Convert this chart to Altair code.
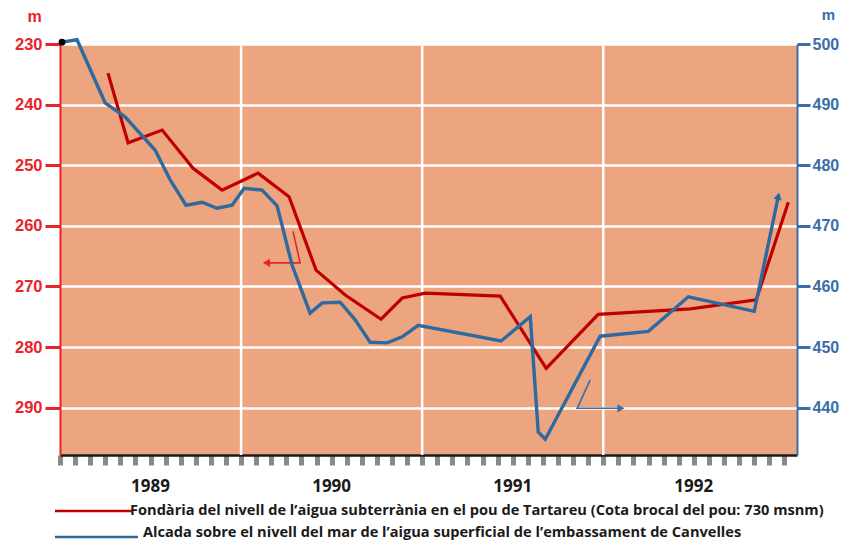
import altair as alt
import pandas as pd

# ---------------- data ----------------
red_t = [1989.265, 1989.376, 1989.564, 1989.735, 1989.895, 1990.094, 1990.265, 1990.414,
         1990.575, 1990.773, 1990.890, 1991.017, 1991.431, 1991.685, 1991.972, 1992.481,
         1992.845, 1993.022]
red_v = [234.8, 246.3, 244.2, 250.5, 254.1, 251.3, 255.2, 267.3,
         271.4, 275.4, 271.9, 271.1, 271.6, 283.5, 274.6, 273.7,
         272.2, 256.1]

blue_t = [1989.011, 1989.094, 1989.249, 1989.359, 1989.525, 1989.608, 1989.696, 1989.785,
          1989.867, 1989.950, 1990.017, 1990.116, 1990.199, 1990.282, 1990.381, 1990.448,
          1990.547, 1990.630, 1990.713, 1990.807, 1990.890, 1990.978, 1991.436, 1991.597,
          1991.641, 1991.680, 1991.983, 1992.249, 1992.470, 1992.834, 1992.967]
blue_v = [500.3, 500.7, 490.3, 488.0, 482.5, 477.6, 473.4, 473.9,
          472.9, 473.4, 476.2, 475.9, 473.3, 463.5, 455.6, 457.3,
          457.4, 454.5, 450.8, 450.7, 451.7, 453.6, 451.0, 455.0,
          436.0, 434.8, 451.8, 452.6, 458.3, 455.9, 474.9]

years = [1989, 1990, 1991, 1992]
year_bounds = [1990, 1991, 1992]
left_ticks = [230, 240, 250, 260, 270, 280, 290]
right_ticks = [440, 450, 460, 470, 480, 490, 500]
month_ticks = [1989 + k / 12 for k in range(0, 49)]

# annotation arrows (data coordinates)
red_arrow_t = [1990.287, 1990.326, 1990.160]
red_arrow_v = [260.9, 266.1, 266.1]
red_head = [(1990.140, 266.1)]
blue_arrow_t = [1991.928, 1991.856, 1992.083]
blue_arrow_v = [444.6, 439.9, 439.9]
blue_head = [(1992.098, 439.9)]

legend_labels = [
    "Fondària del nivell de l’aigua subterrània en el pou de Tartareu (Cota brocal del pou: 730 msnm)",
    "Alcada sobre el nivell del mar de l’aigua superficial de l’embassament de Canvelles",
]

# ---------------- styles ----------------
BG = "#EDA57F"
RED_AX = "#E8232A"
RED_LINE = "#C00000"
BLUE_AX = "#3A6EA8"
BLUE_LINE = "#2E69A0"
AXFONT = "Liberation Sans"
TXTFONT = "Open Sans"

red_df = pd.DataFrame({"t": red_t, "v": red_v})
blue_df = pd.DataFrame({"t": blue_t, "v": blue_v})
red_arrow_df = pd.DataFrame({"t": red_arrow_t, "v": red_arrow_v, "o": range(len(red_arrow_t))})
blue_arrow_df = pd.DataFrame({"t": blue_arrow_t, "v": blue_arrow_v, "o": range(len(blue_arrow_t))})
red_head_df = pd.DataFrame(red_head, columns=["t", "v"])
blue_head_df = pd.DataFrame(blue_head, columns=["t", "v"])
blue_end_df = blue_df.tail(1)
blue_start_df = blue_df.head(1)
year_df = pd.DataFrame({"t": [y + 0.5 for y in years], "lab": [str(y) for y in years]})
bound_df = pd.DataFrame({"t": year_bounds})
leg_df = pd.DataFrame({"lab": legend_labels, "i": [0, 1]})

xscale = alt.Scale(domain=[1989, 1993.07], nice=False, zero=False)
xaxis = alt.Axis(values=month_ticks, labels=False, title=None, grid=False,
                 tickColor="#8a8a8a", tickWidth=5, tickSize=10, tickOffset=0,
                 domainColor="#1a1a1a", domainWidth=2.5)


def X(field="t"):
    return alt.X(f"{field}:Q", scale=xscale, axis=xaxis)


lscale = alt.Scale(domain=[230, 297.8], reverse=True, nice=False, zero=False)
laxis = alt.Axis(values=left_ticks, orient="left", grid=True, gridColor="white", gridWidth=2.5,
                 domainColor=RED_AX, domainWidth=2, tickColor=RED_AX, tickWidth=3, tickSize=15,
                 labelColor=RED_AX, labelFont=AXFONT, labelFontSize=16.5, labelFontWeight="bold",
                 labelPadding=3, title="m", titleAngle=0, titleColor=RED_AX, titleFont=AXFONT,
                 titleFontSize=16, titleFontWeight="bold", titleX=-26, titleY=-20, titleAlign="center")
rscale = alt.Scale(domain=[432.2, 500], nice=False, zero=False)
raxis = alt.Axis(values=right_ticks, orient="right", grid=False,
                 domainColor=BLUE_AX, domainWidth=2, tickColor=BLUE_AX, tickWidth=3, tickSize=13,
                 labelColor=BLUE_AX, labelFont=AXFONT, labelFontSize=16, labelFontWeight="bold",
                 labelPadding=2, title="m", titleAngle=0, titleColor=BLUE_AX, titleFont=AXFONT,
                 titleFontSize=15, titleFontWeight="bold", titleX=31, titleY=-22, titleAlign="center")


def YL(field="v"):
    return alt.Y(f"{field}:Q", scale=lscale, axis=laxis)


def YR(field="v"):
    return alt.Y(f"{field}:Q", scale=rscale, axis=raxis)


# ---------------- left (red) group ----------------
bounds = alt.Chart(bound_df).mark_rule(color="white", strokeWidth=2.5).encode(x=X())
red_line = alt.Chart(red_df).mark_line(color=RED_LINE, strokeWidth=3.2).encode(x=X(), y=YL())
red_arrow = alt.Chart(red_arrow_df).mark_line(color=RED_AX, strokeWidth=1.6).encode(
    x=X(), y=YL(), order="o:Q")
red_arrowhead = alt.Chart(red_head_df).mark_point(
    shape="triangle-left", filled=True, color=RED_AX, size=70, opacity=1).encode(x=X(), y=YL())
year_text = alt.Chart(year_df).mark_text(
    font=TXTFONT, fontSize=17, fontWeight="bold", color="#1a1a1a", baseline="middle").encode(
    x=X(), y=alt.value(443), text="lab:N")

leg_rule0 = alt.Chart(leg_df).transform_filter("datum.i == 0").mark_rule(
    color=RED_LINE, strokeWidth=2.5).encode(x=alt.value(-5), x2=alt.value(72), y=alt.value(467))
leg_rule1 = alt.Chart(leg_df).transform_filter("datum.i == 1").mark_rule(
    color=BLUE_LINE, strokeWidth=2.5).encode(x=alt.value(-5), x2=alt.value(78), y=alt.value(493))
leg_text0 = alt.Chart(leg_df).transform_filter("datum.i == 0").mark_text(
    font=TXTFONT, fontSize=14.6, fontWeight="bold", color="#1a1a1a", align="left", baseline="middle").encode(
    x=alt.value(70), y=alt.value(467), text="lab:N")
leg_text1 = alt.Chart(leg_df).transform_filter("datum.i == 1").mark_text(
    font=TXTFONT, fontSize=14.6, fontWeight="bold", color="#1a1a1a", align="left", baseline="middle").encode(
    x=alt.value(83), y=alt.value(489), text="lab:N")

left = alt.layer(bounds, red_line, red_arrow, red_arrowhead, year_text,
                 leg_rule0, leg_rule1, leg_text0, leg_text1)

# ---------------- right (blue) group ----------------
blue_line = alt.Chart(blue_df).mark_line(color=BLUE_LINE, strokeWidth=3.4).encode(x=X(), y=YR())
blue_arrow = alt.Chart(blue_arrow_df).mark_line(color=BLUE_AX, strokeWidth=1.6).encode(
    x=X(), y=YR(), order="o:Q")
blue_arrowhead = alt.Chart(blue_head_df).mark_point(
    shape="triangle-right", filled=True, color=BLUE_AX, size=70, opacity=1).encode(x=X(), y=YR())
blue_endhead = alt.Chart(blue_end_df).mark_point(
    shape="triangle-up", filled=True, color=BLUE_LINE, size=70, opacity=1, angle=12).encode(x=X(), y=YR())
blue_dot = alt.Chart(blue_start_df).mark_point(
    shape="circle", filled=True, color="black", size=45, opacity=1).encode(x=X(), y=YR())

right = alt.layer(blue_line, blue_arrow, blue_arrowhead, blue_endhead, blue_dot)

chart = alt.layer(left, right).resolve_scale(y="independent").properties(
    width=737, height=411,
    autosize=alt.AutoSizeParams(type="none"),
    padding={"left": 60, "top": 44, "right": 44, "bottom": 87},
    background="white",
).configure_view(fill=BG, stroke=None)

chart.save("out.html", embed_options={"renderer": "svg", "actions": False})
